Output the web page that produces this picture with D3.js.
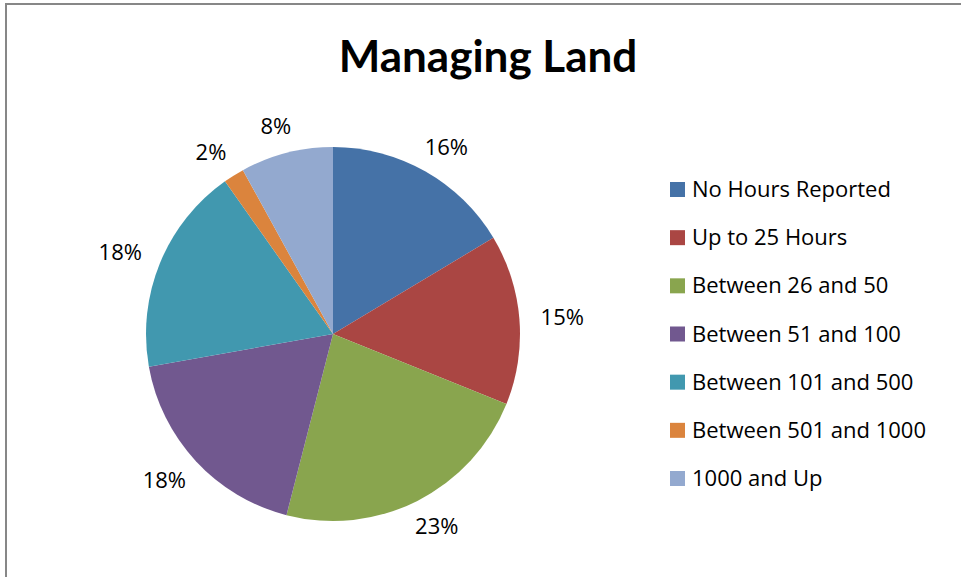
<!DOCTYPE html>
<html>
<head>
<meta charset="utf-8">
<script src="https://cdn.jsdelivr.net/npm/d3@7"></script>
<style>
    body { margin: 0; background: #fff; }
    text { font-family: "Open Sans", Lato, sans-serif; fill: #000; }
    .title { font-family: Lato, "Open Sans", sans-serif; }
</style>
</head>
<body>
<div id="chart"></div>
<script>
// Chart data (shares, in percent)
const categories = ["No Hours Reported", "Up to 25 Hours", "Between 26 and 50", "Between 51 and 100",
    "Between 101 and 500", "Between 501 and 1000", "1000 and Up"];
const shares = [16.4, 14.7, 22.9, 18.2, 18.0, 1.8, 8.0];
const shareLabels = ["16%", "15%", "23%", "18%", "18%", "2%", "8%"];
const colors = ["#4572A7", "#AA4643", "#89A54E", "#71588F", "#4198AF", "#DB843D", "#93A9CF"];

function drawPie() {
    const w = 961;
    const h = 577;
    const cx = 333;
    const cy = 334;
    const radius = 187;
    // label box placement outside the pie
    const gap = 18;
    const halfW = 25;
    const halfH = 10;

    const svg = d3.select("#chart")
        .append("svg")
        .attr("width", w)
        .attr("height", h);

    // chart area border (runs off the right and bottom edges)
    svg.append("rect")
        .attr("x", 6)
        .attr("y", 4)
        .attr("width", w + 10)
        .attr("height", h + 10)
        .attr("fill", "none")
        .attr("stroke", "#878787")
        .attr("stroke-width", 2);

    svg.append("text")
        .attr("class", "title")
        .attr("x", 488)
        .attr("y", 72)
        .attr("text-anchor", "middle")
        .style("font-size", "44px")
        .style("font-weight", "bold")
        .text("Managing Land");

    const data = categories.map(function (c, i) {
        return {name: c, value: shares[i], label: shareLabels[i], color: colors[i]};
    });

    const pie = d3.pie()
        .sort(null)
        .value(function (d) { return d.value; });

    const arc = d3.arc()
        .innerRadius(0)
        .outerRadius(radius);

    const g = svg.append("g")
        .attr("transform", "translate(" + cx + "," + cy + ")");

    const arcs = pie(data);

    g.selectAll("path")
        .data(arcs)
        .enter()
        .append("path")
        .attr("d", arc)
        .attr("fill", function (d) { return d.data.color; });

    g.selectAll("text.pct")
        .data(arcs)
        .enter()
        .append("text")
        .attr("class", "pct")
        .attr("transform", function (d) {
            const a = (d.startAngle + d.endAngle) / 2;
            const s = Math.sin(a);
            const c = Math.cos(a);
            const x = (radius + gap) * s + halfW * s;
            const y = -(radius + gap) * c - halfH * c;
            return "translate(" + x + "," + y + ")";
        })
        .attr("text-anchor", "middle")
        .attr("dy", "0.36em")
        .style("font-size", "22px")
        .text(function (d) { return d.data.label; });

    // Legend
    const legendY = d3.scalePoint()
        .domain(categories)
        .range([189.5, 478.5]);

    const legend = svg.selectAll("g.legend")
        .data(data)
        .enter()
        .append("g")
        .attr("class", "legend")
        .attr("transform", function (d) {
            return "translate(670," + legendY(d.name) + ")";
        });

    legend.append("rect")
        .attr("x", 0)
        .attr("y", -7.5)
        .attr("width", 15)
        .attr("height", 15)
        .attr("fill", function (d) { return d.color; });

    legend.append("text")
        .attr("x", 22)
        .attr("y", 7.5)
        .style("font-size", "22px")
        .text(function (d) { return d.name; });
}

drawPie();
</script>
</body>
</html>
